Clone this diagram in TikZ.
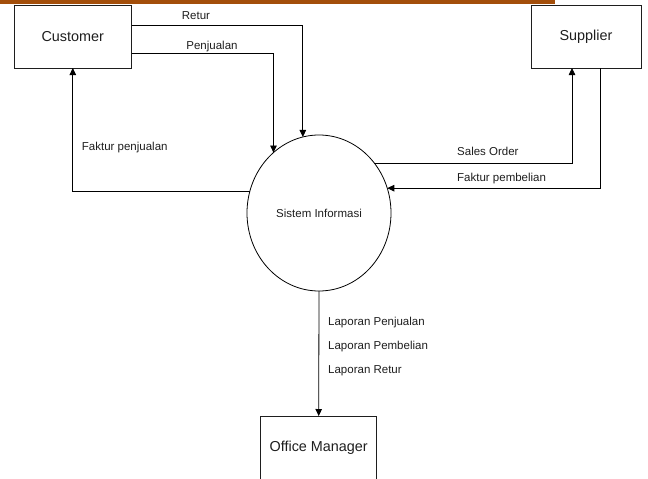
\documentclass[tikz,border=0pt]{standalone}
\usepackage{fontspec}
\setmainfont{Liberation Sans}
\usetikzlibrary{arrows.meta,shapes.geometric}
\definecolor{barbrown}{RGB}{163,78,10}
\definecolor{inkgray}{RGB}{30,30,30}
\tikzset{
  entity/.style={draw=inkgray, line width=0.9pt, rectangle, inner sep=0pt, outer sep=0pt,
    font=\fontsize{14.4}{16}\selectfont, text=inkgray},
  process/.style={draw=black, line width=0.8pt, ellipse, inner sep=0pt, outer sep=0pt,
    minimum width=144pt, minimum height=156pt, font=\fontsize{11.5}{13}\selectfont, text=inkgray},
  flow/.style={draw=black, line width=0.8pt, -{Triangle[length=7pt,width=6.5pt]}},
  flowlabel/.style={inner sep=0pt, font=\fontsize{11.5}{13}\selectfont, text=inkgray}
}
\begin{document}
\begin{tikzpicture}[x=1pt,y=-1pt]
  \useasboundingbox (0,0) rectangle (648,479);
  \clip (0,0) rectangle (648,479);
  % header strip
  \fill[barbrown] (0,0) rectangle (555,3.5);

  % external entities and the process
  \node[entity, minimum width=117.7pt, minimum height=63pt] (customer) at (72.8,36.5) {Customer};
  \node[entity, minimum width=110pt, minimum height=63pt] (supplier) at (586,36.5) {Supplier};
  \node[process] (sys) at (319,213) {Sistem Informasi};
  \node[entity, minimum width=116pt, minimum height=64pt] (manager) at (318.7,448) {Office Manager};

  % data flows
  \draw[flow] ([yshift=10.8pt]customer.east) -| (sys.102.6);
  \draw[flow] ([yshift=-16.5pt]customer.east) -| (sys.127.5);
  \draw[flow] (sys.163.1) -| (customer.south);
  \draw[flow] (sys.42.3) -| ([xshift=-14pt]supplier.south);
  \draw[flow] ([xshift=14.7pt]supplier.south) |- (sys.20.1);
  \draw[flow] (sys.south) -- (manager.north);

  % flow labels
  \node[flowlabel] (lretur) at (196,16) {Retur};
  \node[flowlabel] (ljual) at (212,47) {Penjualan};
  \node[flowlabel, anchor=west] (lfakj) at (81.7,148) {Faktur penjualan};
  \node[flowlabel, anchor=west] (lso) at (457,151) {Sales Order};
  \node[flowlabel, anchor=west] (lfakb) at (457,179) {Faktur pembelian};
  \node[flowlabel, anchor=west] (llj) at (328,323) {Laporan Penjualan};
  \node[flowlabel, anchor=west] (llb) at (328,347) {Laporan Pembelian};
  \node[flowlabel, anchor=west] (llr) at (328,371) {Laporan Retur};
\end{tikzpicture}
\end{document}
